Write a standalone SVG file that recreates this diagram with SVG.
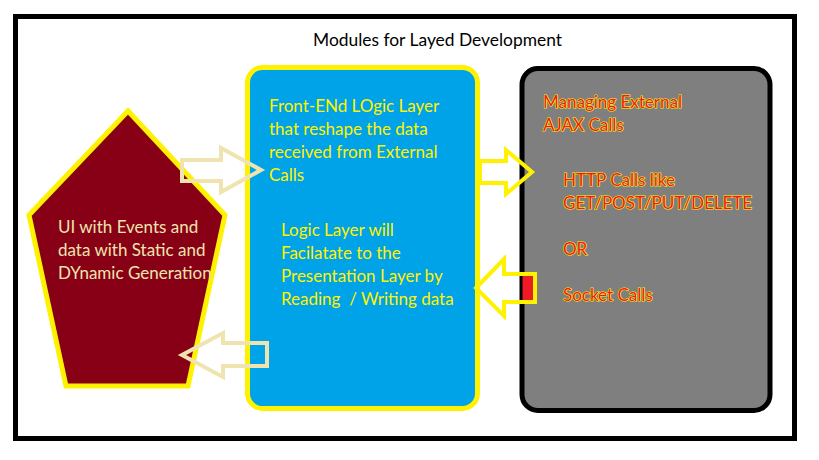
<svg xmlns="http://www.w3.org/2000/svg" width="819" height="460" viewBox="0 0 819 460">
<style>
text { font-family: Lato, "Open Sans", "Liberation Sans", sans-serif; font-size: 17px; }
.title { fill: #000000; font-size: 17.4px; }
.beige { fill: #EFE4B0; }
.yel { fill: #FFF200; }
.red { fill: #ED1C24; stroke: #FFF200; stroke-width: 1.2; paint-order: stroke; }
.arrowB { fill: none; stroke: #EFE4B0; stroke-width: 4; stroke-linejoin: miter; }
.arrowY { fill: none; stroke: #FFF200; stroke-width: 4; stroke-linejoin: miter; }
</style>
<rect width="819" height="460" fill="#FFFFFF"/>
<rect id="frame" x="15.5" y="16.5" width="779" height="422" fill="none" stroke="#000000" stroke-width="5"/>
<text class="title" x="313" y="46">Modules for Layed Development</text>

<g id="ui-node">
  <polygon points="128,111 29,215 66,386 188,386 225,215" fill="#880015" stroke="#FFF200" stroke-width="5"/>
  <text class="beige" x="58" y="233">UI with Events and</text>
  <text class="beige" x="58" y="256">data with Static and</text>
  <text class="beige" x="58" y="279">DYnamic Generation</text>
</g>

<g id="logic-node">
  <rect x="247.5" y="67.5" width="230" height="341" rx="15" fill="#00A2E8" stroke="#FFF200" stroke-width="5"/>
  <text class="yel" x="269" y="112">Front-ENd LOgic Layer</text>
  <text class="yel" x="269" y="135">that reshape the data</text>
  <text class="yel" x="269" y="158">received from External</text>
  <text class="yel" x="269" y="181">Calls</text>
  <text class="yel" x="281" y="236" xml:space="preserve">Logic Layer will</text>
  <text class="yel" x="281" y="259" xml:space="preserve">Facilatate to the</text>
  <text class="yel" x="281" y="282" xml:space="preserve">Presentation Layer by</text>
  <text class="yel" x="281" y="305" xml:space="preserve">Reading  / Writing data</text>
</g>

<g id="external-node">
  <rect x="522" y="68.5" width="248" height="342" rx="16" fill="#7F7F7F" stroke="#000000" stroke-width="5"/>
  <text class="red" x="543" y="108">Managing External</text>
  <text class="red" x="543" y="131">AJAX Calls</text>
  <text class="red" x="563" y="186">HTTP Calls like</text>
  <text class="red" x="563" y="209">GET/POST/PUT/DELETE</text>
  <text class="red" x="563" y="255">OR</text>
  <text class="red" x="563" y="301">Socket Calls</text>
</g>

<g id="connectors">
  <polygon class="arrowB" points="182,160 221,160 221,148 261,170 221,192 221,181 182,181"/>
  <polygon class="arrowB" points="182,355 223,333 223,343 267,343 267,366 223,366 223,377"/>
  <polygon class="arrowY" points="480,161 506,161 506,150 532,172 506,194 506,183 480,183"/>
  <rect x="522.5" y="276" width="10.5" height="25" fill="#ED1C24"/>
  <polygon class="arrowY" points="476,288 504,259 504,274 535,274 535,302 504,302 504,316"/>
</g>
</svg>
